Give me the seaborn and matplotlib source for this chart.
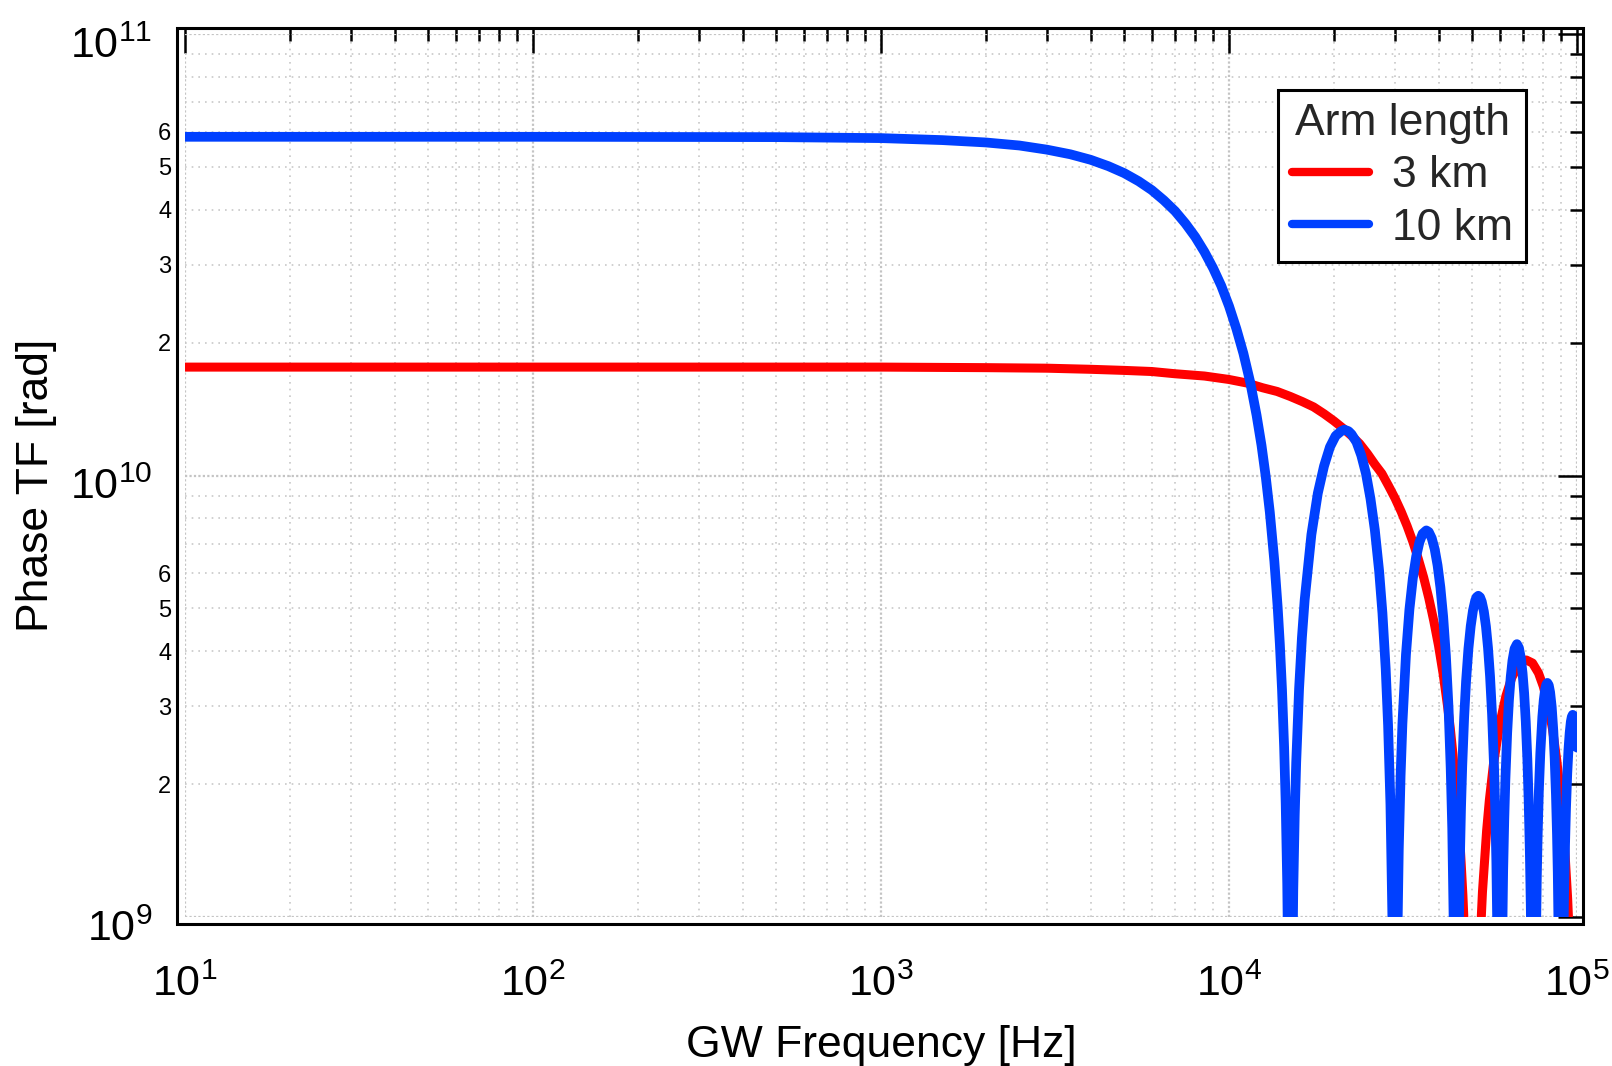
import numpy as np
import pandas as pd
import matplotlib
matplotlib.use('Agg')
import matplotlib.pyplot as plt
import matplotlib.ticker as mticker
import matplotlib.transforms as mtransforms
from matplotlib.patches import Rectangle
from matplotlib.lines import Line2D
import seaborn as sns

# Values (phase TF in units of 1e9 rad)
freq_3km = [10, 100, 1000, 2000, 3000, 4000, 5000, 6000, 7000, 8500,
            10000, 11250, 12500, 13750, 15000, 16250, 17500, 18750, 20000, 21250,
            22500, 23750, 25000, 26250, 27500, 28750, 30000, 31250, 32500, 33750,
            35000, 36250, 37500, 38750, 40000, 41250, 42500, 43250, 44000, 45000,
            45500, 46000, 46500, 47000, 47500, 48500,
            51500, 52500, 53500, 55000, 56000, 57500, 60000, 62500, 65000, 68000,
            70000, 71500, 74500, 77500, 80000, 82500, 85000, 87500, 89500, 91000,
            92500, 94000, 95500, 97500]
tf_3km = [17.6, 17.6, 17.6, 17.55, 17.5, 17.4, 17.3, 17.2, 17.0, 16.8,
          16.5, 16.2, 15.8, 15.5, 15.1, 14.7, 14.3, 13.8, 13.3, 12.8,
          12.3, 11.8, 11.2, 10.6, 10.1, 9.47, 8.88, 8.28, 7.68, 7.08,
          6.47, 5.88, 5.28, 4.69, 4.12, 3.55, 2.99, 2.67, 2.34, 1.92,
          1.72, 1.52, 1.31, 1.12, 0.92, 0.54,
          0.51, 0.83, 1.14, 1.57, 1.84, 2.21, 2.74, 3.17, 3.49, 3.73,
          3.81, 3.82, 3.76, 3.57, 3.33, 3.03, 2.67, 2.26, 1.92, 1.65,
          1.37, 1.10, 0.82, 0.45]

freq_10km = [10, 100, 500, 1000, 1500, 2000, 2500, 3000, 3500, 4000,
             4500, 5000, 5500, 6000, 6500, 7000, 7500, 8000, 8500, 9000,
             9500, 10000, 10500, 11000, 11500, 12000, 12400, 12750, 13100, 13500,
             13800, 14000, 14200, 14400, 14550, 14700, 14850,
             15150, 15300, 15450, 15600, 15900, 16200, 16500, 17250, 18000, 18750,
             19500, 20250, 21000, 21450, 22050, 22500, 23250, 24000, 24750, 25500,
             26250, 27000, 27600, 28200, 28650, 29100, 29550,
             30450, 30750, 31125, 31500, 32250, 33000, 33750, 34500, 35250, 36000,
             36900, 37500, 38250, 39000, 39750, 40500, 41250, 42000, 42750, 43350,
             43800, 44400,
             45600, 46050, 46425, 46800, 47400, 48000, 48750, 49500, 50250, 51000,
             51450, 52050, 52650, 53250, 54000, 54750, 55500, 56250, 57000, 57750,
             58200, 58650, 59250,
             60750, 61350, 61800, 62250, 63000, 63750, 64500, 65250, 66150, 67200,
             68100, 69000, 69750, 70500, 71250, 72000, 72600, 73200, 73650, 74100,
             75900, 76650, 77100, 77700, 78450, 79500, 80250, 81000, 81600, 82200,
             82950, 83700, 84600, 85500, 86250, 87000, 87600, 88050, 88950,
             91050, 91800, 92400, 93000, 93750, 94500, 95250, 96000, 96600, 97200,
             97650, 98250, 99000, 100000]
tf_10km = [58.5, 58.5, 58.4, 58.1, 57.5, 56.8, 55.9, 54.7, 53.4, 51.9,
           50.2, 48.4, 46.4, 44.3, 42.0, 39.7, 37.2, 34.7, 32.1, 29.5,
           26.9, 24.2, 21.5, 18.9, 16.3, 13.7, 11.7, 9.95, 8.26, 6.39,
           5.03, 4.15, 3.28, 2.43, 1.81, 1.19, 0.59,
           0.58, 1.15, 1.70, 2.24, 3.29, 4.29, 5.23, 7.35, 9.12, 10.5,
           11.6, 12.3, 12.6, 12.7, 12.6, 12.4, 11.9, 11.1, 10.1, 8.86,
           7.52, 6.08, 4.88, 3.65, 2.72, 1.80, 0.89,
           0.86, 1.42, 2.09, 2.74, 3.93, 4.98, 5.85, 6.55, 7.06, 7.38,
           7.51, 7.45, 7.21, 6.81, 6.26, 5.58, 4.79, 3.91, 2.97, 2.18,
           1.59, 0.79,
           0.77, 1.32, 1.77, 2.20, 2.84, 3.42, 4.05, 4.56, 4.95, 5.21,
           5.30, 5.34, 5.30, 5.18, 4.92, 4.55, 4.07, 3.51, 2.88, 2.20,
           1.77, 1.33, 0.74,
           0.72, 1.27, 1.66, 2.04, 2.61, 3.10, 3.50, 3.81, 4.05, 4.15,
           4.07, 3.85, 3.57, 3.21, 2.77, 2.28, 1.85, 1.40, 1.06, 0.71,
           0.69, 1.23, 1.54, 1.93, 2.35, 2.84, 3.10, 3.28, 3.36, 3.39,
           3.35, 3.23, 2.99, 2.64, 2.29, 1.89, 1.54, 1.26, 0.69,
           0.67, 1.12, 1.46, 1.77, 2.11, 2.39, 2.61, 2.77, 2.84, 2.87,
           2.86, 2.81, 2.68, 2.42]

arm_labels = ['3 km', '10 km']
line_colors = ['#ff0000', '#0040ff']
line_widths = [6.5, 7.0]

df = pd.concat([
    pd.DataFrame({'freq': freq_3km, 'tf': np.array(tf_3km) * 1e9, 'arm': arm_labels[0]}),
    pd.DataFrame({'freq': freq_10km, 'tf': np.array(tf_10km) * 1e9, 'arm': arm_labels[1]}),
], ignore_index=True)

sns.set_theme(style='white')
plt.rcParams['font.family'] = ['Liberation Sans', 'DejaVu Sans']
plt.rcParams['mathtext.fontset'] = 'custom'
plt.rcParams['mathtext.rm'] = 'Liberation Sans'
plt.rcParams['mathtext.it'] = 'Liberation Sans:italic'
plt.rcParams['mathtext.bf'] = 'Liberation Sans:bold'

W, H = 1612, 1066
fig = plt.figure(figsize=(W / 100, H / 100), dpi=100)
ax = fig.add_axes([185 / W, 1 - 917 / H, (1577 - 185) / W, (917 - 34) / H])
ax.set_xscale('log')
ax.set_yscale('log')

sns.lineplot(data=df, x='freq', y='tf', hue='arm', hue_order=arm_labels,
             palette=line_colors, estimator=None, sort=False, linewidth=6,
             legend=False, ax=ax)
for line, lw in zip(ax.lines, line_widths):
    line.set_linewidth(lw)

ax.set_xlim(10, 1e5)
ax.set_ylim(1e9, 1e11)
ax.set_xlabel('')
ax.set_ylabel('')

# ticks
ax.xaxis.set_major_locator(mticker.LogLocator(base=10, numticks=100))
ax.xaxis.set_minor_locator(mticker.LogLocator(base=10, subs=np.arange(2, 10), numticks=100))
ax.yaxis.set_major_locator(mticker.LogLocator(base=10, numticks=100))
ax.yaxis.set_minor_locator(mticker.LogLocator(base=10, subs=np.arange(2, 10), numticks=100))


def major_fmt(v, pos):
    return r'$\mathregular{10^{%d}}$' % round(np.log10(v))


def minor_y_fmt(v, pos):
    m = int(round(v / 10 ** np.floor(np.log10(v) + 1e-9)))
    return str(m) if 2 <= m <= 6 else ''


ax.xaxis.set_major_formatter(mticker.FuncFormatter(major_fmt))
ax.xaxis.set_minor_formatter(mticker.NullFormatter())
ax.yaxis.set_major_formatter(mticker.FuncFormatter(major_fmt))
ax.yaxis.set_minor_formatter(mticker.FuncFormatter(minor_y_fmt))

ax.tick_params(which='both', direction='in', top=True, right=True,
               color='black', width=1.8, labelcolor='black')
ax.tick_params(which='major', length=18)
ax.tick_params(which='minor', length=9.4)
ax.tick_params(axis='x', which='major', labelsize=31, pad=29)
ax.tick_params(axis='y', which='major', labelsize=31, pad=18)
ax.tick_params(axis='y', which='minor', labelsize=17, pad=4)

# frame sits a few pixels outside the data limits
for side, off in [('left', 8), ('bottom', 7), ('right', 6), ('top', 6)]:
    ax.spines[side].set_position(('outward', off * 0.72))
    ax.spines[side].set_visible(False)
fig.add_artist(Rectangle((177 / W, 1 - 924 / H), (1583 - 177) / W, (924 - 28) / H,
                         transform=fig.transFigure, fill=False, ec='black',
                         lw=2.2, zorder=5))

# grid
ax.set_axisbelow(True)
ax.grid(True, which='major', color='#c4c4c4', ls=(0, (1, 1)), lw=1.6)
ax.grid(True, which='minor', color='#c8c8c8', ls=(0, (1, 3)), lw=1.2)

# axis titles
fig.text(881 / W, 1 - 1057 / H, 'GW Frequency [Hz]', ha='center', va='baseline',
         fontsize=32, color='black')
fig.text(37 / W, 1 - 485 / H, 'Phase TF [rad]', ha='center', va='center',
         rotation=90, fontsize=32, color='black')

# legend
handles = [Line2D([], [], color=c, lw=6) for c in line_colors]
leg = ax.legend(handles, arm_labels, title='Arm length', loc='upper right',
                bbox_to_anchor=(1526 / W, 1 - 90 / H), bbox_transform=fig.transFigure,
                fontsize=32, title_fontsize=32, frameon=True, fancybox=False,
                edgecolor='black', framealpha=1, borderpad=0.3, labelspacing=0.25,
                handlelength=1.75, handletextpad=0.5, borderaxespad=0)
leg.get_frame().set_linewidth(2.2)

# major y labels sit a little below their ticks
shift = mtransforms.ScaledTranslation(0, -8 / 100, fig.dpi_scale_trans)
for tick in ax.yaxis.get_major_ticks():
    tick.label1.set_transform(tick.label1.get_transform() + shift)

fig.savefig('out.png', dpi=100)
